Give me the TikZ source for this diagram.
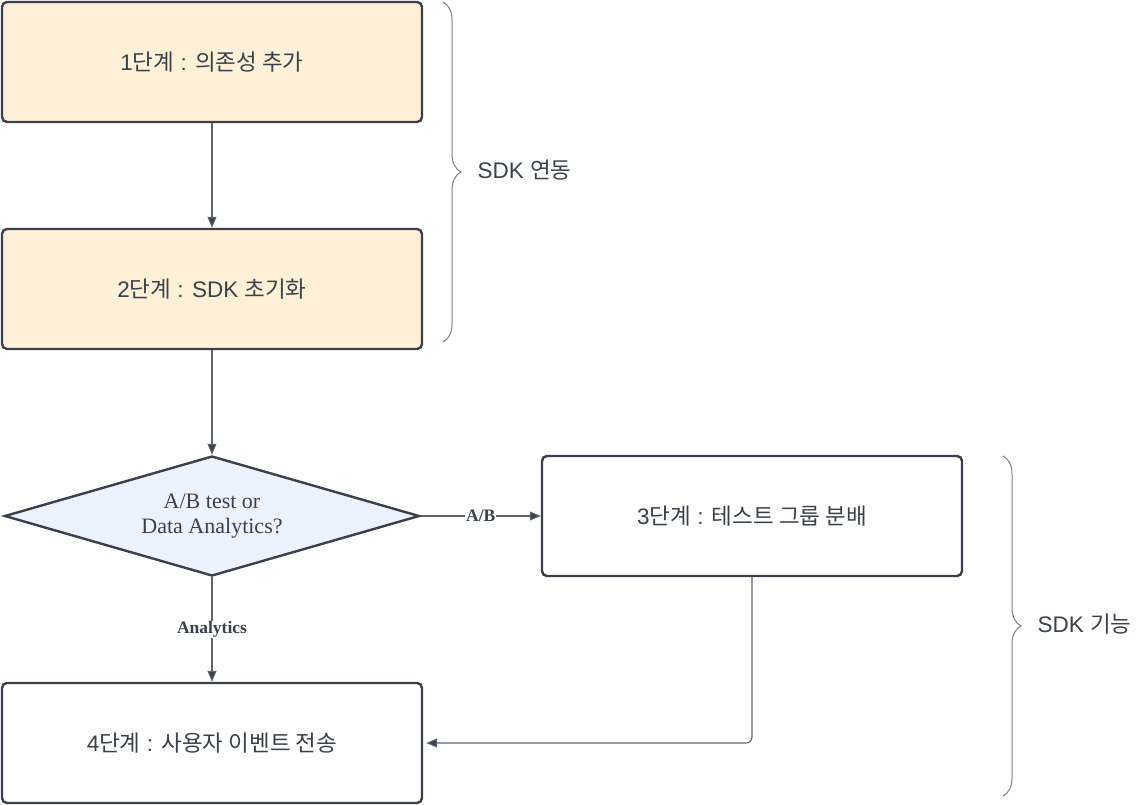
\documentclass[tikz,border=0pt]{standalone}
\usepackage{fontspec}
\setmainfont{Liberation Serif}
\newfontfamily\lat{Liberation Sans}
\newfontfamily\kr{Noto Sans CJK KR}
\usetikzlibrary{arrows.meta,shapes.geometric,decorations.pathreplacing}
\definecolor{edgec}{HTML}{3A414A}
\definecolor{linec}{HTML}{5F656D}
\definecolor{bracecol}{HTML}{7A7F86}
\definecolor{cream}{HTML}{FFF1D8}
\definecolor{paleblue}{HTML}{EAF3FE}
\tikzset{
  stepbox/.style={draw=edgec,line width=2.4pt,rounded corners=5pt,minimum width=420pt,minimum height=120pt,inner sep=0pt,text=edgec,font=\lat\fontsize{22.5}{26}\selectfont},
  decide/.style={draw=edgec,line width=2.4pt,fill=paleblue,diamond,aspect=3.46,minimum width=415pt,minimum height=120pt,inner sep=0pt,text=edgec,align=center,font=\fontsize{22}{25}\selectfont},
  conn/.style={draw=linec,line width=1.1pt,-{Triangle[length=11pt,width=9pt,fill=edgec]}},
  elabel/.style={fill=white,inner sep=1pt,text=edgec,font=\bfseries\fontsize{17.5}{19}\selectfont},
  bracec/.style={draw=bracecol,line width=1pt,decorate,decoration={brace,amplitude=18pt,aspect=0.5}},
  sidetext/.style={text=edgec,anchor=west,font=\lat\fontsize{22.5}{26}\selectfont}
}
\begin{document}
\begin{tikzpicture}[x=1pt,y=-1pt]
\useasboundingbox (0,0) rectangle (1141,804);
\node[stepbox,fill=cream] (s1) at (212,62) {1{\kr 단계} : {\kr 의존성 추가}};
\node[stepbox,fill=cream] (s2) at (212,289) {2{\kr 단계} : SDK {\kr 초기화}};
\node[decide] (d) at (212,516) {A/B test or\\Data Analytics?};
\node[stepbox,fill=white] (s3) at (752,516) {3{\kr 단계} : {\kr 테스트 그룹 분배}};
\node[stepbox,fill=white] (s4) at (212,743) {4{\kr 단계} : {\kr 사용자 이벤트 전송}};

\draw[conn] (s1.south) -- (s2.north);
\draw[conn] (s2.south) -- (d.north);
\draw[conn] (d.east) -- node[elabel]{A/B} (s3.west);
\draw[conn] (d.south) -- node[elabel]{Analytics} (s4.north);
\draw[conn,rounded corners=6pt] (s3.south) |- ([xshift=3pt]s4.east);

\coordinate (b1t) at (443,2);
\coordinate (b1b) at (443,342);
\coordinate (b2t) at (1003,456);
\coordinate (b2b) at (1003,796);
\draw[bracec] (b1t) -- (b1b);
\draw[bracec] (b2t) -- (b2b);
\node[sidetext] (t1) at (474,170) {SDK {\kr 연동}};
\node[sidetext] (t2) at (1034,624) {SDK {\kr 기능}};
\end{tikzpicture}
\end{document}
